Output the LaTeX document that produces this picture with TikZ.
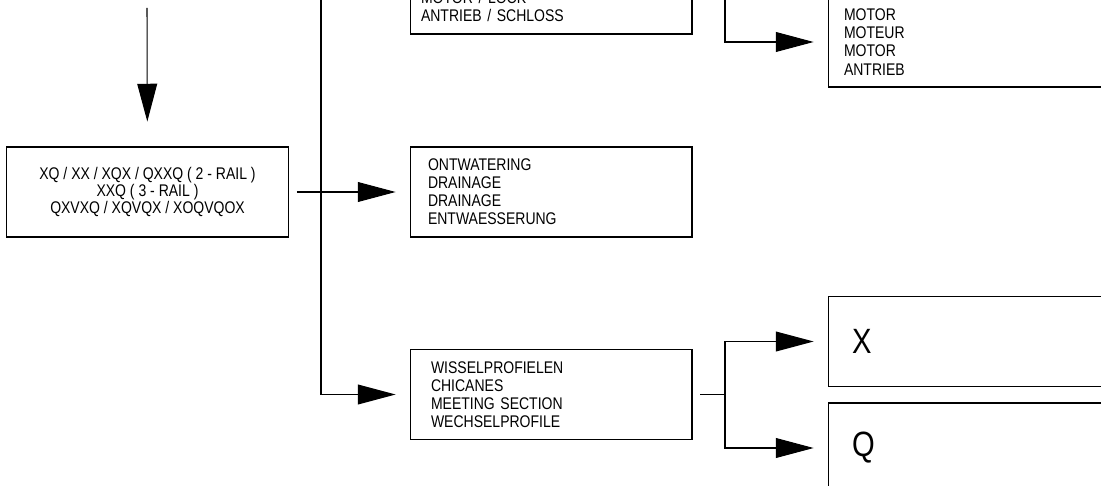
\documentclass[tikz,border=0pt]{standalone}
\usepackage{fontspec}
\setmainfont{Liberation Sans}[FakeStretch=0.83]
\usetikzlibrary{arrows.meta,positioning}
\newcommand\tightlines{\lineskiplimit=-100pt\relax}

\begin{document}
\begin{tikzpicture}[x=0.02cm,y=-0.02cm,
  >={Triangle[length=21.5pt,width=11.3pt]},
  line width=0.6pt,
  bx/.style={draw,rectangle,minimum width=5.64cm,minimum height=1.8cm,inner sep=0pt,
    font=\fontsize{9.6pt}{10.3pt}\selectfont\tightlines},
  lbx/.style={bx,align=left,inner xsep=#1,text width=5.64cm-2*#1},
  bigbx/.style={lbx=#1,font=\fontsize{20pt}{24pt}\selectfont},
  ar/.style={->,shorten >=7.9pt},
  st/.style={shorten <=4.5pt}]
  \useasboundingbox (0,0) rectangle (1101,486);
  \clip (0,0) rectangle (1101,486);

  % boxes
  \node[bx,align=center,font=\fontsize{9.6pt}{9.6pt}\selectfont\tightlines] (main) at (147.5,192)
    {XQ / XX / XQX / QXXQ ( 2 - RAIL )\\XXQ ( 3 - RAIL )\\QXVXQ / XQVQX / XOQVQOX};
  \node[lbx=0.22cm] (lock) at (551,-11)
    {\phantom{M}\\\phantom{M}\\MOTOR / LOCK\\ANTRIEB / SCHLOSS};
  \node[lbx=0.36cm] (drain) at (551,192)
    {ONTWATERING\\DRAINAGE\\DRAINAGE\\ENTWAESSERUNG};
  \node[lbx=0.42cm] (wissel) at (551,394.5)
    {WISSELPROFIELEN\\CHICANES\\MEETING SECTION\\WECHSELPROFILE};
  \node[lbx=0.32cm] (motor) at (969,42)
    {MOTOR\\MOTEUR\\MOTOR\\ANTRIEB};
  \node[bigbx=0.48cm] (xbox) at (969,341.5) {X};
  \node[bigbx=0.48cm] (qbox) at (969,448) {Q};

  % connectors
  \coordinate (src) at (147,8);
  \coordinate (trunk) at (321,-10);
  \coordinate (fkA) at (725,-11);
  \coordinate (fkB) at (725,394.5);
  \draw[->,shorten >=14.2pt] (src) -- (main);
  \draw[ar,st] (main) -- (drain);
  \draw[ar] (trunk) |- (wissel);
  \draw[st] (lock) -- (fkA);
  \draw[ar] (fkA) |- (motor);
  \draw[st] (wissel) -- (fkB);
  \draw[ar] (fkB) |- (xbox);
  \draw[ar] (fkB) |- (qbox);
\end{tikzpicture}
\end{document}
